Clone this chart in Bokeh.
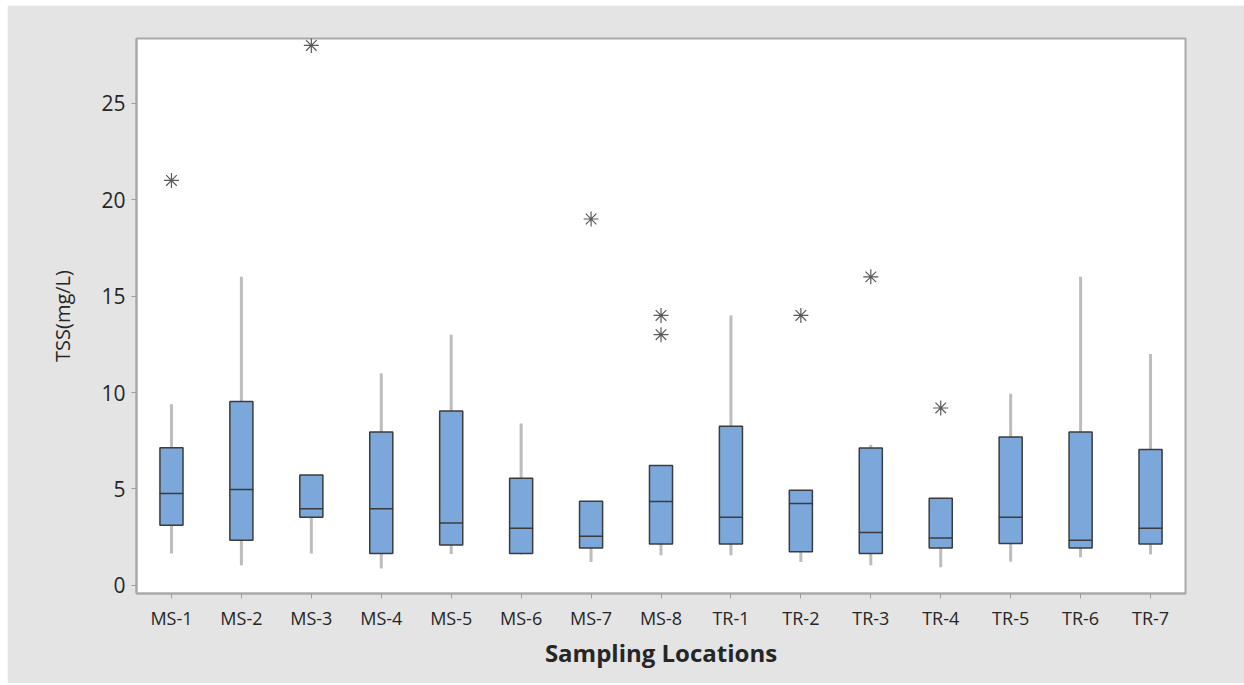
import numpy as np
from bokeh.plotting import figure
from bokeh.models import FactorRange, Range1d, FixedTicker
from bokeh.embed import file_html
from bokeh.resources import INLINE

locations = ["MS-1", "MS-2", "MS-3", "MS-4", "MS-5", "MS-6", "MS-7", "MS-8",
             "TR-1", "TR-2", "TR-3", "TR-4", "TR-5", "TR-6", "TR-7"]
whisker_low = [1.65, 1.04, 1.65, 0.87, 1.63, 1.60, 1.21, 1.56, 1.56, 1.21, 1.04, 0.94, 1.23, 1.46, 1.60]
q1 = [3.12, 2.34, 3.53, 1.65, 2.10, 1.65, 1.94, 2.15, 2.15, 1.75, 1.65, 1.94, 2.17, 1.94, 2.15]
median = [4.77, 4.97, 3.97, 3.97, 3.24, 2.96, 2.55, 4.35, 3.53, 4.25, 2.74, 2.46, 3.53, 2.34, 2.96]
q3 = [7.14, 9.53, 5.72, 7.95, 9.04, 5.55, 4.37, 6.22, 8.25, 4.94, 7.12, 4.52, 7.69, 7.95, 7.05]
whisker_high = [9.40, 16.0, 5.72, 11.0, 13.0, 8.40, 4.37, 6.22, 14.0, 4.94, 7.28, 4.52, 9.94, 16.0, 12.0]
outlier_loc = ["MS-1", "MS-3", "MS-7", "MS-8", "MS-8", "TR-2", "TR-3", "TR-4"]
outlier_val = [21.0, 28.0, 19.0, 14.0, 13.0, 14.0, 16.0, 9.2]
y_ticks = [0, 5, 10, 15, 20, 25]

FONT = "Open Sans"
BG = "#e4e4e4"
FRAME = "#a9a9a9"
TEXT = "#262626"

p = figure(x_range=FactorRange(*locations, range_padding=0),
           y_range=Range1d(-0.42, 28.36),
           width=1237, height=678,
           min_border_left=129, min_border_right=59,
           min_border_top=33, min_border_bottom=90,
           output_backend="svg", toolbar_location=None,
           background_fill_color="white", border_fill_color=BG)
p.margin = (5, 0, 0, 7)

p.xgrid.visible = False
p.ygrid.visible = False
p.outline_line_color = FRAME
p.outline_line_width = 2

# whiskers
p.segment(x0=locations, y0=q3, x1=locations, y1=whisker_high,
          line_color="#bdbdbd", line_width=3)
p.segment(x0=locations, y0=q1, x1=locations, y1=whisker_low,
          line_color="#bdbdbd", line_width=3)

# boxes
p.vbar(x=locations, bottom=q1, top=q3, width=0.33,
       fill_color="#7ba7da", line_color="#3c3c3c", line_width=1.5)

# medians
p.rect(x=locations, y=median, width=0.33, height=0.0001,
       line_color="#3c3c3c", line_width=1.5, fill_alpha=0)

# outliers
p.scatter(x=outlier_loc, y=outlier_val, marker="asterisk", size=15,
          angle=np.pi / 2, line_color="#5a5a5a", line_width=1.2)

# axes
for ax in (p.xaxis[0], p.yaxis[0]):
    ax.axis_line_color = FRAME
    ax.axis_line_width = 2
    ax.major_tick_line_color = "#a0a0a0"
    ax.major_tick_in = 0
    ax.major_tick_out = 5
    ax.minor_tick_line_color = None
    ax.major_label_text_font = FONT
    ax.major_label_text_font_style = "normal"
    ax.major_label_text_color = TEXT
    ax.axis_label_text_font = FONT
    ax.axis_label_text_color = TEXT

p.yaxis.ticker = FixedTicker(ticks=y_ticks)
p.yaxis.major_label_text_font_size = "21px"
p.yaxis.major_label_standoff = 6
p.yaxis.axis_label = "TSS(mg/L)"
p.yaxis.axis_label_text_font_size = "20px"
p.yaxis.axis_label_text_font_style = "normal"
p.yaxis.axis_label_standoff = 22

p.xaxis.major_label_text_font_size = "18px"
p.xaxis.major_label_standoff = 7
p.xaxis.axis_label = "Sampling Locations"
p.xaxis.axis_label_text_font_size = "24px"
p.xaxis.axis_label_text_font_style = "bold"
p.xaxis.axis_label_standoff = 3

open("out.html", "w").write(file_html(p, INLINE))
